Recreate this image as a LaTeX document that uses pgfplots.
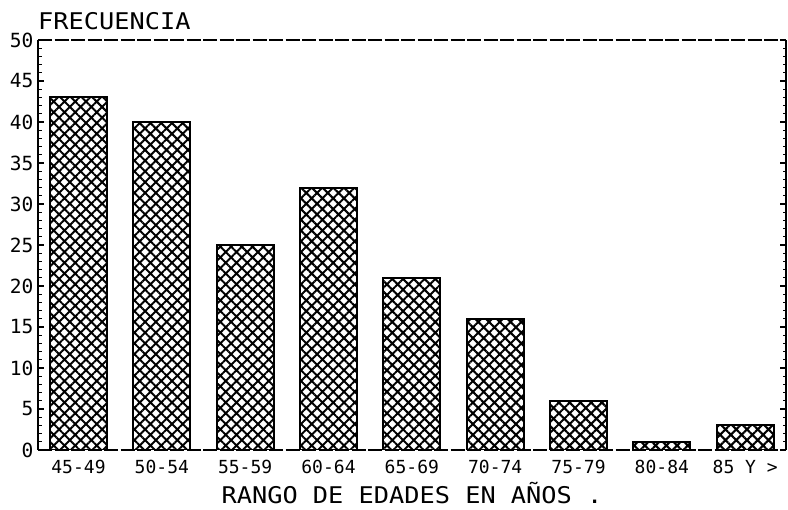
\documentclass[border=0pt]{standalone}
\usepackage{pgfplots}
\pgfplotsset{compat=1.18}
\usepackage{fontspec}
\setmainfont{DejaVu Sans Mono}
\newfontfamily\labelfont[FakeStretch=1.1]{DejaVu Sans Mono}
\usetikzlibrary{patterns.meta}

\begin{document}
\begin{tikzpicture}
\begin{axis}[
  name=ax,
  scale only axis,
  width=748pt, height=410pt,
  xmin=-0.486, xmax=8.49,
  ymin=0, ymax=50,
  ytick={0,5,...,50},
  minor y tick num=4,
  xtick=data,
  xticklabels={45-49,50-54,55-59,60-64,65-69,70-74,75-79,80-84,85 Y >},
  xtick style={draw=none},
  tick align=inside,
  ytick pos=both,
  yticklabel pos=left,
  major tick length=6pt,
  minor tick length=3.5pt,
  every tick/.style={black, line width=1.3pt},
  separate axis lines,
  x axis line style={line width=1.3pt, dash pattern=on 14pt off 2.5pt},
  y axis line style={line width=1.8pt},
  xticklabel style={font=\fontsize{18}{18}\selectfont, yshift=-1pt},
  yticklabel style={font=\fontsize{19.5}{19.5}\selectfont, xshift=-1pt},
  /pgf/number format/assume math mode=true,
  xlabel={RANGO DE EDADES EN AÑOS .},
  xlabel style={font=\labelfont\fontsize{23}{23}\selectfont, yshift=-1pt},
  ylabel={FRECUENCIA},
  ylabel style={rotate=-90, at={(axis description cs:0,1)}, anchor=south west,
    inner sep=0pt, yshift=10pt, font=\labelfont\fontsize{23}{23}\selectfont},
  ybar,
  bar width=0.684,
]
\addplot[draw=black, line width=2pt,
  pattern={Hatch[angle=45, distance=7.6pt, line width=2pt]}]
  coordinates {(0,43) (1,40) (2,25) (3,32) (4,21) (5,16) (6,6) (7,1) (8,3)};
\end{axis}
\pgfresetboundingbox
\path ([xshift=-38pt,yshift=-60pt]ax.south west) rectangle ([xshift=2pt,yshift=40pt]ax.north east);
\end{tikzpicture}
\end{document}
